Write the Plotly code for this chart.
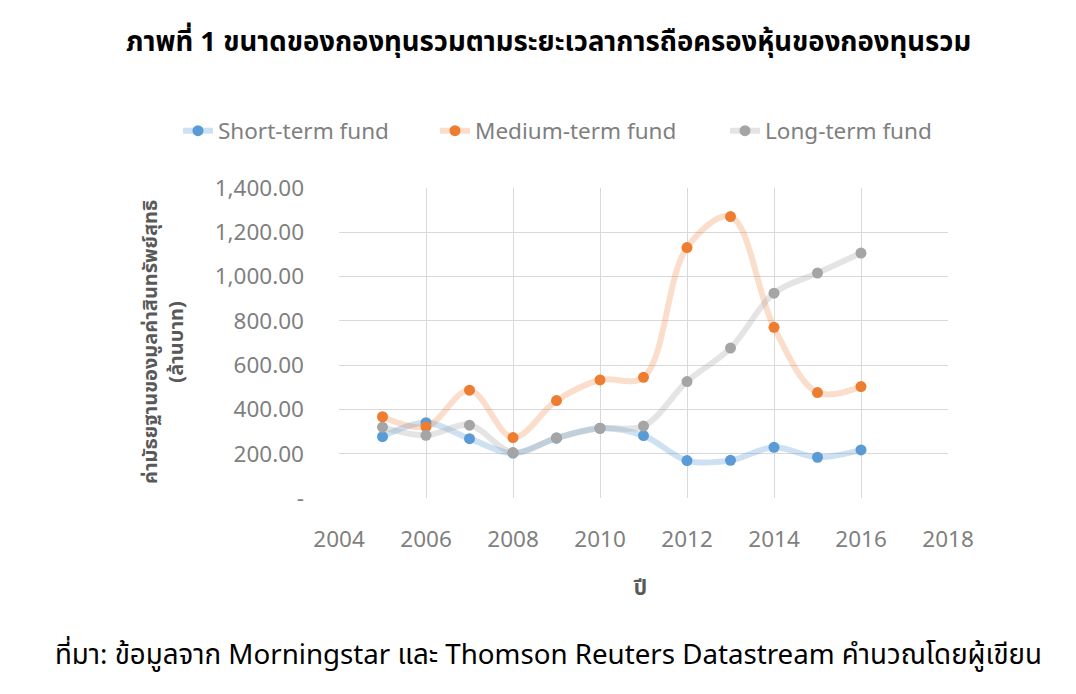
import plotly.graph_objects as go

# median NAV of equity mutual funds by holding period (million baht)
years = [2005, 2006, 2007, 2008, 2009, 2010, 2011, 2012, 2013, 2014, 2015, 2016]
short_term = [277, 340, 268, 203, 270, 315, 282, 169, 170, 229, 184, 217]
medium_term = [367, 322, 487, 273, 440, 533, 545, 1131, 1271, 771, 476, 503]
long_term = [320, 283, 329, 205, 272, 315, 325, 526, 677, 925, 1016, 1106]

y_ticks = [0, 200, 400, 600, 800, 1000, 1200, 1400]
y_tick_text = ["-", "200.00", "400.00", "600.00", "800.00", "1,000.00", "1,200.00", "1,400.00"]

FONT = "Noto Sans Thai, Noto Sans, Open Sans, sans-serif"
GREY_TXT = "#595959"
TICK_TXT = "#7f7f7f"

# page body has an 8px margin, so the figure is drawn 8px smaller / shifted
OFF = 8
W, H = 1076 - OFF, 694 - OFF
# plot area in screen pixels (from the reference)
L, R, T, B = 339 - OFF, 948 - OFF, 188 - OFF, 498 - OFF
PW, PH = R - L, B - T


def px(x):
    return (x - OFF - L) / PW


def py(y):
    return (B - (y - OFF)) / PH


series = [
    ("Short-term fund", short_term, "#5b9bd5", "rgba(91,155,213,0.3)", "legend", 178),
    ("Medium-term fund", medium_term, "#ed7d31", "rgba(237,125,49,0.25)", "legend2", 435),
    ("Long-term fund", long_term, "#a5a5a5", "rgba(165,165,165,0.3)", "legend3", 725),
]

fig = go.Figure()
legends = {}
for name, vals, mcol, lcol, leg, lx in series:
    fig.add_trace(go.Scatter(
        x=years, y=vals, name=name, mode="lines+markers",
        line=dict(color=lcol, width=6, shape="spline", smoothing=1),
        marker=dict(color=mcol, size=11),
        legend=leg,
    ))
    legends[leg] = dict(orientation="h", x=px(lx), y=py(131),
                        xanchor="left", yanchor="middle",
                        font=dict(size=22.5, color=TICK_TXT),
                        bgcolor="rgba(0,0,0,0)")

fig.update_layout(
    width=W, height=H,
    margin=dict(l=L, r=W - R, t=T, b=H - B, autoexpand=False),
    paper_bgcolor="white", plot_bgcolor="white",
    font=dict(family=FONT, color=GREY_TXT, size=19),
    showlegend=True,
    **legends,
    xaxis=dict(range=[2004, 2018], tickvals=list(range(2004, 2019, 2)),
               showgrid=True, gridcolor="#d9d9d9", gridwidth=1,
               zeroline=False, showline=False, ticks="",
               tickfont=dict(size=22.5, color=TICK_TXT),
               ticklabelstandoff=25),
    yaxis=dict(range=[0, 1400], tickvals=y_ticks, ticktext=y_tick_text,
               showgrid=True, gridcolor="#d9d9d9", gridwidth=1,
               zeroline=False, showline=False, ticks="",
               tickfont=dict(size=22.5, color=TICK_TXT),
               ticklabelstandoff=34),
    annotations=[
        dict(text="<b>ภาพที่ 1 ขนาดของกองทุนรวมตามระยะเวลาการถือครองหุ้นของกองทุนรวม</b>",
             xref="paper", yref="paper", x=px(548), y=py(42),
             showarrow=False, font=dict(size=27.5, color="#000000"),
             xanchor="center", yanchor="middle"),
        dict(text="<b>ปี</b>", xref="paper", yref="paper",
             x=px(640), y=py(588), showarrow=False,
             font=dict(size=21, color=GREY_TXT), xanchor="center", yanchor="middle"),
        dict(text="<b>ค่ามัธยฐานของมูลค่าสินทรัพย์สุทธิ<br>(ล้านบาท)</b>",
             xref="paper", yref="paper", x=px(164), y=py(342),
             showarrow=False, textangle=-90, font=dict(size=20, color=GREY_TXT),
             xanchor="center", yanchor="middle"),
        dict(text="ที่มา: ข้อมูลจาก Morningstar และ Thomson Reuters Datastream คำนวณโดยผู้เขียน",
             xref="paper", yref="paper", x=px(548), y=py(655),
             showarrow=False, font=dict(size=27.7, color="#000000"),
             xanchor="center", yanchor="middle"),
    ],
)

fig.write_html("out.html")
